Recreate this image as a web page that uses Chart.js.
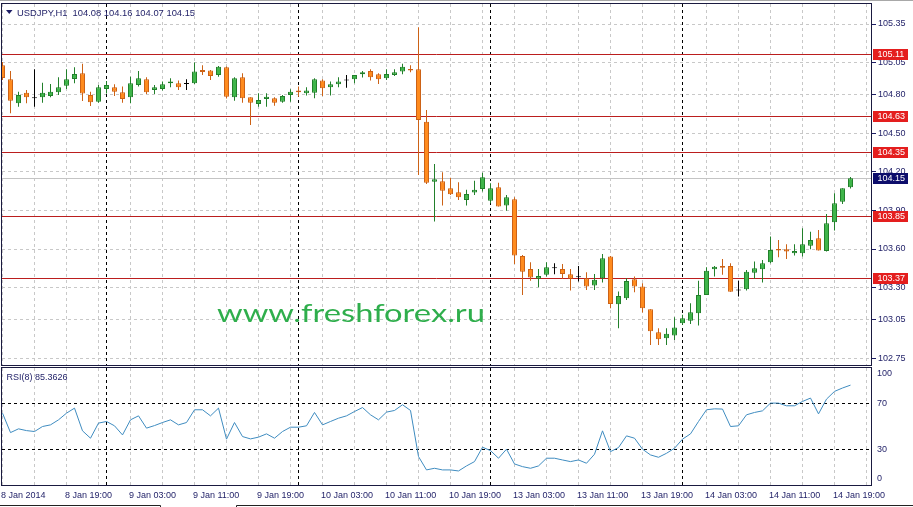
<!DOCTYPE html>
<html><head><meta charset="utf-8">
<script src="https://cdn.jsdelivr.net/npm/chart.js@4.4.1/dist/chart.umd.min.js"></script>
<style>
html,body{margin:0;padding:0;background:#fff;}
#wrap{position:relative;width:913px;height:507px;overflow:hidden;background:#fff;}
#c1{position:absolute;left:0;top:0;}
#c2{position:absolute;left:0;top:366px;}
</style></head><body>
<div id="wrap">
<canvas id="c1" width="913" height="366"></canvas>
<canvas id="c2" width="913" height="141"></canvas>
</div>
<script>
// ---------------- data ----------------
const symbol = 'USDJPY,H1';
const openP = [105.03,104.92,104.734,104.816,104.773,104.78,104.79,104.819,104.87,104.923,104.967,104.798,104.746,104.845,104.858,104.82,104.78,104.876,104.92,104.837,104.845,104.889,104.889,104.884,104.889,104.993,104.988,104.954,105.014,104.78,104.936,104.78,104.728,104.767,104.773,104.746,104.798,104.832,104.811,104.816,104.91,104.858,104.881,104.91,104.92,104.959,104.985,104.959,104.928,104.954,104.98,105.0,104.998,104.59,104.124,104.127,104.073,104.042,103.982,104.039,104.067,103.976,104.08,103.938,103.987,103.546,103.445,103.368,103.399,103.45,103.445,103.404,103.38,103.373,103.316,103.373,103.541,103.17,103.217,103.365,103.308,103.132,102.953,102.906,102.927,103.023,103.043,103.101,103.243,103.443,103.468,103.468,103.277,103.287,103.416,103.443,103.497,103.6,103.598,103.567,103.567,103.626,103.684,103.585,103.808,103.968,104.08];
const highP = [105.055,104.985,104.824,104.837,104.998,104.894,104.884,104.936,104.998,105.014,105.04,104.824,104.876,104.907,104.881,104.863,104.94,104.985,104.936,104.876,104.902,104.928,104.91,104.92,105.05,105.03,104.993,105.024,105.02,104.936,104.967,104.78,104.811,104.811,104.78,104.798,104.843,104.863,104.858,104.928,104.92,104.902,104.936,104.954,104.954,104.985,104.998,104.967,104.998,104.998,105.04,105.03,105.325,104.682,104.262,104.197,104.155,104.119,104.06,104.13,104.194,104.111,104.116,104.021,104.003,103.554,103.497,103.445,103.497,103.49,103.484,103.445,103.468,103.42,103.406,103.562,103.546,103.269,103.373,103.386,103.334,103.132,102.984,102.984,103.07,103.088,103.179,103.354,103.458,103.468,103.523,103.49,103.354,103.437,103.502,103.515,103.697,103.671,103.637,103.637,103.762,103.735,103.748,103.873,104.034,104.073,104.16];
const lowP = [104.915,104.656,104.707,104.734,104.707,104.738,104.78,104.798,104.845,104.89,104.752,104.713,104.738,104.81,104.79,104.738,104.734,104.863,104.806,104.806,104.832,104.858,104.837,104.837,104.884,104.954,104.915,104.94,104.77,104.754,104.738,104.565,104.707,104.707,104.715,104.738,104.746,104.785,104.793,104.773,104.79,104.793,104.858,104.855,104.89,104.933,104.91,104.884,104.915,104.946,104.959,104.975,104.176,104.106,103.813,103.938,104.02,103.982,103.938,104.02,104.047,103.956,103.93,103.898,103.484,103.243,103.354,103.303,103.386,103.404,103.368,103.277,103.347,103.282,103.282,103.339,103.14,102.984,103.204,103.264,103.106,102.854,102.854,102.854,102.893,103.01,103.017,103.005,103.243,103.386,103.399,103.268,103.23,103.277,103.368,103.339,103.49,103.536,103.523,103.549,103.541,103.598,103.588,103.58,103.743,103.95,104.07];
const closeP = [104.93,104.754,104.798,104.78,104.773,104.816,104.824,104.858,104.92,104.962,104.81,104.741,104.858,104.876,104.824,104.767,104.89,104.928,104.82,104.858,104.881,104.902,104.858,104.884,104.98,104.977,104.946,105.018,104.785,104.928,104.773,104.738,104.759,104.785,104.738,104.79,104.824,104.82,104.832,104.92,104.85,104.881,104.902,104.91,104.954,104.975,104.936,104.92,104.962,104.975,105.018,104.988,104.604,104.116,104.143,104.054,104.026,104.003,104.028,104.06,104.158,104.073,103.93,104.003,103.549,103.424,103.378,103.391,103.458,103.45,103.406,103.368,103.38,103.308,103.36,103.528,103.173,103.235,103.352,103.308,103.14,102.96,102.898,102.94,102.989,103.062,103.108,103.243,103.43,103.463,103.455,103.268,103.277,103.424,103.45,103.49,103.593,103.588,103.58,103.585,103.637,103.671,103.588,103.8,103.956,104.073,104.15];
const rsiValues = [61.4,44.8,48,46.5,45.7,50,51.4,55.7,61.4,65.7,46.3,40,52.9,54.3,50.6,42.8,55.7,59.1,48.6,50.8,53.4,55.7,51.4,53.4,64.3,64.3,59.1,65.7,39.2,53.4,41.4,39.4,40.9,43.7,40,45.7,49.4,49.4,50.6,62,51.4,54.3,57.1,59.1,62.8,66.2,60,55.7,62.3,63.7,68.6,63.7,24.3,12.9,14.3,12.9,12.9,12,16.3,20,32.3,29.4,22.9,30.6,18,15.7,14.3,16.3,22.9,22.9,21.4,20,21.4,18.6,26.3,46.3,28.5,32,42,40,30.6,25.7,23.7,27.1,31.4,39.2,43.7,54.3,64.3,65.1,64.9,50,50.6,60,62,63.4,70,70,67.7,67.7,71.4,74.3,60.8,73.4,80,82.9,85.3626];
const rsiPeriod = 8;
const timeLabels = ['8 Jan 2014','8 Jan 19:00','9 Jan 03:00','9 Jan 11:00','9 Jan 19:00','10 Jan 03:00','10 Jan 11:00','10 Jan 19:00','13 Jan 03:00','13 Jan 11:00','13 Jan 19:00','14 Jan 03:00','14 Jan 11:00','14 Jan 19:00'];
const priceTicks = [105.35,105.05,104.80,104.50,104.20,103.90,103.60,103.30,103.05,102.75];
const levelLines = [105.11,104.63,104.35,103.85,103.37];
const rsiTicks = [100,70,30,0];
const rsiLevels = [70,30];
const daySeparators = [13,37,61,85];
const watermark = 'www.freshforex.ru';

// ---------------- style ----------------
const FONT = '"Liberation Sans", Arial, sans-serif';
const NAVY = '#1e1e66';
const GRID = '#c8c8c8';
const FRAME = '#1a1a40';
const X_MIN = -0.0625, X_MAX = 108.5625;
const Y_MIN = 102.6979, Y_MAX = 105.50555;

Chart.defaults.font.family = FONT;
Chart.defaults.font.size = 9;
Chart.defaults.color = NAVY;

const n = closeP.length;
const idx = closeP.map((_, i) => i);
const kind = i => closeP[i] > openP[i] ? 'up' : (closeP[i] < openP[i] ? 'down' : 'doji');
const bodyFill = idx.map(i => ({up:'#3fb54a', down:'#ff8b1e', doji:'#000000'})[kind(i)]);
const bodyEdge = idx.map(i => ({up:'#22802b', down:'#cc6216', doji:'#000000'})[kind(i)]);

const zeroPad = s => { s.paddingLeft = 0; s.paddingRight = 0; s.paddingTop = 0; s.paddingBottom = 0; };

function xAxis(showLabels) {
  return {
    type: 'linear', position: 'bottom', min: X_MIN, max: X_MAX, offset: false,
    afterBuildTicks: s => { const t = []; for (let v = 0; v <= X_MAX; v += 4) t.push({ value: v }); s.ticks = t; },
    afterFit: s => { s.height = showLabels ? 22 : 0; zeroPad(s); },
    grid: { color: GRID, lineWidth: 1, drawTicks: false, offset: false },
    border: { display: false, dash: [3, 3] },
    ticks: showLabels ? {
      display: true, autoSkip: false, maxRotation: 0, minRotation: 0, align: 'start',
      padding: 5, labelOffset: -1.5, color: NAVY, font: { family: FONT, size: 9 },
      callback: v => (v % 8 === 0 && timeLabels[v / 8] !== undefined) ? timeLabels[v / 8] : ''
    } : { display: false }
  };
}

function vline(ctx, px, top, bottom) {
  ctx.beginPath(); ctx.moveTo(px, top); ctx.lineTo(px, bottom); ctx.stroke();
}
function crisp(v) { return Math.round(v - 0.5) + 0.5; }

// ---------------- price chart ----------------
const topDecor = {
  id: 'topDecor',
  beforeDatasetsDraw(chart) {
    const { ctx, chartArea: a, scales: { x, y } } = chart;
    ctx.save();
    ctx.beginPath(); ctx.rect(a.left, a.top, a.right - a.left, a.bottom - a.top); ctx.clip();
    // watermark
    ctx.fillStyle = '#2fae4c';
    ctx.font = '25px Lato, "Open Sans", sans-serif';
    ctx.textBaseline = 'alphabetic';
    const w = ctx.measureText(watermark).width;
    ctx.save(); ctx.translate(217, 321.7); ctx.scale(268 / w, 1); ctx.fillText(watermark, 0, 0); ctx.restore();
    ctx.lineWidth = 1;
    // day separators
    ctx.strokeStyle = '#000'; ctx.setLineDash([3, 3]);
    daySeparators.forEach(i => vline(ctx, crisp(x.getPixelForValue(i)), a.top, a.bottom));
    ctx.setLineDash([]);
    // bid line
    ctx.strokeStyle = '#c4c4c4';
    let py = crisp(y.getPixelForValue(closeP[n - 1]));
    ctx.beginPath(); ctx.moveTo(a.left, py); ctx.lineTo(a.right, py); ctx.stroke();
    // levels
    ctx.strokeStyle = '#bb1e1e';
    levelLines.forEach(v => {
      const p = crisp(y.getPixelForValue(v));
      ctx.beginPath(); ctx.moveTo(a.left, p); ctx.lineTo(a.right, p); ctx.stroke();
    });
    ctx.restore();
  },
  afterDraw(chart) {
    const { ctx, chartArea: a, scales: { y } } = chart;
    ctx.save();
    // window edge
    ctx.fillStyle = '#a8a8a8'; ctx.fillRect(0, 0, 913, 1);
    // frame
    ctx.strokeStyle = FRAME; ctx.lineWidth = 1;
    ctx.strokeRect(a.left - 0.5, a.top - 0.5, a.right - a.left + 1, a.bottom - a.top + 1);
    // price labels
    ctx.font = '9px ' + FONT; ctx.textBaseline = 'middle'; ctx.textAlign = 'left';
    const box = (v, bg) => {
      const p = y.getPixelForValue(v);
      const top = Math.round(p - 5.5);
      ctx.fillStyle = bg; ctx.fillRect(a.right + 2, top, 35, 11);
      ctx.fillStyle = '#ffffff'; ctx.fillText(v.toFixed(2), a.right + 6.5, top + 6);
    };
    levelLines.forEach(v => box(v, '#e41e1e'));
    box(closeP[n - 1], '#0d0d6b');
    // header
    ctx.fillStyle = NAVY;
    ctx.beginPath(); ctx.moveTo(6, 10); ctx.lineTo(12.5, 10); ctx.lineTo(9.25, 14); ctx.closePath(); ctx.fill();
    ctx.textBaseline = 'alphabetic';
    ctx.font = '9.4px ' + FONT;
    const head = symbol + '  ' + [openP[n-1], highP[n-1], lowP[n-1], closeP[n-1]].map(v => v.toFixed(2)).join(' ');
    ctx.fillText(head, 17, 15.5);
    ctx.restore();
  }
};

new Chart(document.getElementById('c1'), {
  type: 'bar',
  data: {
    datasets: [
      {
        label: 'body', order: 0,
        data: idx.map(i => ({ x: i, y: [openP[i], closeP[i]] })),
        backgroundColor: bodyFill, borderColor: bodyEdge, borderWidth: 1,
        borderSkipped: false, grouped: false, maxBarThickness: 5, minBarLength: 1, inflateAmount: 0
      },
      {
        label: 'wick', order: 1,
        data: idx.map(i => ({ x: i, y: [lowP[i], highP[i]] })),
        backgroundColor: bodyEdge, borderWidth: 0,
        borderSkipped: false, grouped: false, maxBarThickness: 1, inflateAmount: 0
      }
    ]
  },
  options: {
    responsive: false, animation: false, devicePixelRatio: 1, events: [],
    layout: { padding: { left: 2, top: 4, right: 0, bottom: 1 } },
    plugins: { legend: { display: false }, tooltip: { enabled: false } },
    scales: {
      x: xAxis(false),
      y: {
        type: 'linear', position: 'right', min: Y_MIN, max: Y_MAX, beginAtZero: false,
        afterBuildTicks: s => { s.ticks = priceTicks.map(v => ({ value: v })); },
        afterFit: s => { s.width = 42; zeroPad(s); },
        grid: { color: GRID, lineWidth: 1, drawTicks: true, tickLength: 5, tickColor: NAVY, tickBorderDash: [] },
        border: { display: false, dash: [3, 3] },
        ticks: { display: true, autoSkip: false, padding: 2, color: NAVY, font: { family: FONT, size: 9 },
                 callback: v => Number(v).toFixed(2) }
      }
    }
  },
  plugins: [topDecor]
});

// ---------------- RSI chart ----------------
const rsiDecor = {
  id: 'rsiDecor',
  beforeDatasetsDraw(chart) {
    const { ctx, chartArea: a, scales: { x } } = chart;
    ctx.save();
    ctx.strokeStyle = '#000'; ctx.lineWidth = 1; ctx.setLineDash([3, 3]);
    daySeparators.forEach(i => vline(ctx, crisp(x.getPixelForValue(i)), a.top, a.bottom));
    ctx.restore();
  },
  afterDraw(chart) {
    const { ctx, chartArea: a, scales: { y } } = chart;
    ctx.save();
    ctx.strokeStyle = FRAME; ctx.lineWidth = 1;
    ctx.strokeRect(a.left - 0.5, a.top - 0.5, a.right - a.left + 1, a.bottom - a.top + 1);
    ctx.font = '9px ' + FONT; ctx.fillStyle = NAVY; ctx.textAlign = 'left'; ctx.textBaseline = 'middle';
    rsiTicks.forEach(v => {
      let p = y.getPixelForValue(v);
      p = Math.min(Math.max(p, a.top + 6), a.bottom - 6.7);
      ctx.fillText(String(v), a.right + 6, p);
    });
    ctx.textBaseline = 'alphabetic';
    ctx.fillText('RSI(' + rsiPeriod + ') ' + rsiValues[n - 1].toFixed(4), 6.5, 13.5);
    // tab bar outline below
    ctx.strokeStyle = '#222';
    ctx.beginPath();
    ctx.moveTo(0, 139.5); ctx.lineTo(160.5, 139.5); ctx.lineTo(160.5, 141);
    ctx.moveTo(236.5, 141); ctx.lineTo(236.5, 139.5); ctx.lineTo(913, 139.5);
    ctx.stroke();
    ctx.restore();
  }
};

new Chart(document.getElementById('c2'), {
  type: 'line',
  data: {
    datasets: [{
      label: 'RSI',
      data: idx.map(i => ({ x: i, y: rsiValues[i] })),
      borderColor: '#3f8cc0', borderWidth: 1, pointRadius: 0, tension: 0, fill: false
    }]
  },
  options: {
    responsive: false, animation: false, devicePixelRatio: 1, events: [],
    layout: { padding: { left: 2, top: 2, right: 0, bottom: 0 } },
    plugins: { legend: { display: false }, tooltip: { enabled: false } },
    scales: {
      x: xAxis(true),
      y: {
        type: 'linear', position: 'right', min: 0, max: 100,
        afterBuildTicks: s => { s.ticks = rsiTicks.map(v => ({ value: v })); },
        afterFit: s => { s.width = 42; zeroPad(s); },
        grid: { color: c => rsiLevels.includes(c.tick.value) ? '#000000' : 'rgba(0,0,0,0)', lineWidth: 1, drawTicks: false },
        border: { display: false, dash: [3, 3] },
        ticks: { display: false }
      }
    }
  },
  plugins: [rsiDecor]
});
</script>
</body></html>
